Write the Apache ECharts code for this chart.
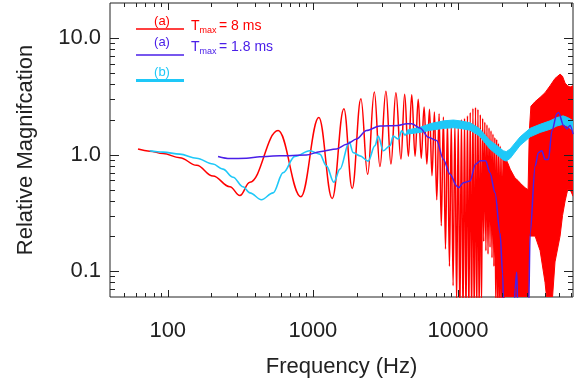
<!DOCTYPE html>
<html><head><meta charset="utf-8">
<script src="https://cdn.jsdelivr.net/npm/echarts@6/dist/echarts.min.js"></script>
<style>html,body{margin:0;padding:0;background:#fff}#c{width:580px;height:383px}</style>
</head><body><div id="c"></div>
<script>
// ---- data ----
const xTickValues = [100, 1000, 10000];
const xTickText = ['100', '1000', '10000'];
const xMinorValues = [50,60,70,80,90,200,300,400,500,600,700,800,900,2000,3000,4000,5000,6000,7000,8000,9000,20000,30000,40000,50000,60000];
const yTickValues = [0.1, 1, 10];
const yTickText = ['0.1', '1.0', '10.0'];
const yMinorValues = [0.07,0.08,0.09,0.2,0.3,0.4,0.5,0.6,0.7,0.8,0.9,2,3,4,5,6,7,8,9];

// (a) Tmax = 8 ms : resolved oscillations
const redF = [62.4,75,92.8,121,158,205,268,314,368,576,826,1099,1359,1636,1866,2143,2384,2651,2898,3187,3451,3733,4045,4290,4550,4800,5060,5320,5580,5840,6100,6360,6620,6880,7140,7410,7670,7930,8200,8460,8730,8990,9250,9520,9780,10040,10300,10560,10830,11090,11350,11620,11880,12140,12410,12670,12930,13200,13460,13720,13990,14250,14520,14780,15040,15300,15570,15830,16100,16360,16620,16880,17150,17410,17680,17940,18200,18460,18730,18990,19260,19520,19790,20050,20310,20570,20830];
const redV = [1.116,1.07,1.02,0.94,0.81,0.655,0.53,0.446,0.58,1.61,0.435,2.08,0.42,2.48,0.513,3.02,0.678,3.45,0.79,3.5,0.83,3.39,0.915,3.3,0.97,3.27,0.97,2.98,0.93,2.56,0.83,2.45,0.66,2.32,0.41,2.24,0.245,2.1,0.155,1.95,0.11,1.88,0.075,1.85,0.055,1.9,0.04,2.0,0.04,2.05,0.04,2.15,0.04,2.3,0.04,2.5,0.04,2.55,0.04,2.45,0.04,2.2,0.05,2.05,0.18,1.9,0.15,1.8,0.14,1.7,0.16,1.6,0.13,1.5,0.11,1.4,0.05,1.35,0.04,1.25,0.04,1.18,0.04,1.1,0.04,1.02,0.04];
// (a) Tmax = 8 ms : unresolved high-frequency band (upper / lower envelope)
const redBandF  = [20700,22000,22900,24700,25900,26800,29000,30400,31000,31800,34000,36800,39800,43100,46600,50500,52500,54700,57000,59200,62100];
const redBandHi = [1.0,0.85,0.75,0.63,0.6,0.57,0.52,0.5,1.6,2.6,2.85,3.1,3.4,3.9,4.5,4.9,4.7,4.1,3.9,3.8,3.9];
const redBandLo = [0.03,0.03,0.03,0.03,0.03,0.03,0.03,0.03,0.2,0.2,0.2,0.15,0.08,0.03,0.12,0.2,0.3,0.4,0.5,0.5,0.44];

// (a) Tmax = 1.8 ms
const blueF = [222,268,349,431,591,903,1115,1455,1706,2000,2341,2898,3880,4427,4796,5478,6250,7130,7920,8820,9810,10070,10900,12100,13200,14300,15500,16600,18000,19500,20300,20700,24300,24700,25400,25900,30600,31400,34000,35800,37800,39800,42000,44400,48000,49300,53400,56300,59200,62100];
const blueV = [0.965,0.925,0.93,0.96,0.976,0.99,1.06,1.12,1.23,1.36,1.61,1.76,1.78,1.84,1.84,1.69,1.41,1.32,0.914,0.68,0.537,0.52,0.574,0.593,0.827,0.884,0.884,0.70,0.47,0.21,0.095,0.04,0.04,0.07,0.098,0.04,0.04,0.21,0.80,1.04,1.08,0.91,0.91,1.6,2.24,2.3,1.78,1.66,1.78,1.5];

// (b)
const cyanF = [75,92.8,121,158,205,240,282,330,368,442,532,624,751,952,1115,1240,1394,1536,1780,1896,2109,2405,2675,2820,3055,3400,3578,3880,4094,4316,4500];
const cyanV = [1.08,1.05,1.01,0.93,0.83,0.75,0.64,0.53,0.47,0.41,0.47,0.70,0.965,1.08,1.01,0.80,0.58,0.75,1.28,1.04,0.976,0.88,1.19,1.44,1.08,1.19,1.44,1.36,1.6,1.47,1.58];
const cyanBandF  = [4450,5500,6500,8000,9300,10300,12100,14000,16600,18500,20500,21500,22900,26800,31400,36800,43100,48000,53000,57000,62100];
const cyanBandHi = [1.62,1.72,1.85,1.95,1.98,1.95,1.88,1.68,1.32,1.2,1.08,1.06,1.12,1.42,1.68,1.82,1.95,2.08,2.15,2.08,1.95];
const cyanBandLo = [1.5,1.55,1.62,1.68,1.7,1.68,1.62,1.45,1.12,1.0,0.9,0.88,0.93,1.2,1.42,1.55,1.65,1.76,1.82,1.75,1.6];

const RED = '#ff0000', BLUE = '#4a1fe8', CYAN = '#1ec8f8', INK = '#222';

function pairs(a, b) { return a.map((v, i) => [v, b[i]]); }
function isPow10(v) { const l = Math.log10(v); return Math.abs(l - Math.round(l)) < 1e-6; }

function bandSeries(F, Hi, Lo, color, z) {
  return {
    type: 'custom', clip: true, silent: true, z: z,
    data: pairs(F, Hi),
    encode: { x: 0, y: 1 },
    renderItem: function (params, api) {
      if (params.dataIndex !== 0) return null;
      const pts = [];
      for (let i = 0; i < F.length; i++) pts.push(api.coord([F[i], Hi[i]]));
      for (let i = F.length - 1; i >= 0; i--) pts.push(api.coord([F[i], Lo[i]]));
      return { type: 'polygon', shape: { points: pts }, style: { fill: color, stroke: color, lineWidth: 1 } };
    }
  };
}

function xTicks(values, len) {
  return {
    type: 'custom', silent: true, clip: false, z: 10,
    data: values.map(v => [v, 1]),
    encode: { x: 0, y: 1 },
    renderItem: function (params, api) {
      const cs = params.coordSys;
      const x = Math.round(api.coord([api.value(0), 1])[0]) + 0.5;
      const b = cs.y + cs.height, t = cs.y;
      return { type: 'group', children: [
        { type: 'line', shape: { x1: x, y1: b, x2: x, y2: b - len }, style: { stroke: INK, lineWidth: 1 } },
        { type: 'line', shape: { x1: x, y1: t, x2: x, y2: t + len }, style: { stroke: INK, lineWidth: 1 } }
      ] };
    }
  };
}
function yTicks(values, len) {
  return {
    type: 'custom', silent: true, clip: false, z: 10,
    data: values.map(v => [100, v]),
    encode: { x: 0, y: 1 },
    renderItem: function (params, api) {
      const cs = params.coordSys;
      const y = Math.round(api.coord([100, api.value(1)])[1]) + 0.5;
      const l = cs.x, r = cs.x + cs.width;
      return { type: 'group', children: [
        { type: 'line', shape: { x1: l, y1: y, x2: l + len, y2: y }, style: { stroke: INK, lineWidth: 1 } },
        { type: 'line', shape: { x1: r, y1: y, x2: r - len, y2: y }, style: { stroke: INK, lineWidth: 1 } }
      ] };
    }
  };
}

const chart = echarts.init(document.getElementById('c'), null, { renderer: 'canvas' });
const FONT = 'Liberation Sans, Arial, Helvetica, sans-serif';

chart.setOption({
  animation: false,
  backgroundColor: '#fff',
  grid: { left: 110, right: 7, top: 3, bottom: 86, show: true, borderColor: INK, borderWidth: 1, backgroundColor: 'transparent' },
  xAxis: {
    type: 'log', logBase: 10, min: 40, max: 62000,
    name: 'Frequency (Hz)', nameLocation: 'middle', nameGap: 59,
    nameTextStyle: { fontFamily: FONT, fontSize: 22, color: INK },
    axisLine: { show: false }, axisTick: { show: false }, splitLine: { show: false }, minorTick: { show: false },
    axisLabel: {
      margin: 23, fontFamily: FONT, fontSize: 22, color: INK, showMinLabel: false, showMaxLabel: false,
      formatter: function (v) { if (!isPow10(v)) return ''; const i = xTickValues.findIndex(t => Math.abs(t - v) / t < 1e-6); return i >= 0 ? xTickText[i] : ''; }
    }
  },
  yAxis: {
    type: 'log', logBase: 10, min: 0.06, max: 20,
    name: 'Relative Magnifcation', nameLocation: 'middle', nameGap: 73, nameRotate: 90,
    nameTextStyle: { fontFamily: FONT, fontSize: 22, color: INK },
    axisLine: { show: false }, axisTick: { show: false }, splitLine: { show: false }, minorTick: { show: false },
    axisLabel: {
      margin: 9, fontFamily: FONT, fontSize: 22, color: INK, showMinLabel: false, showMaxLabel: false,
      padding: [5, 0, 0, 0],
      formatter: function (v) { if (!isPow10(v)) return ''; const i = yTickValues.findIndex(t => Math.abs(t - v) / t < 1e-6); return i >= 0 ? yTickText[i] : ''; }
    }
  },
  series: [
    { type: 'line', data: pairs(redF, redV), showSymbol: false, smooth: 0.4, smoothMonotone: 'x', clip: true, z: 2,
      lineStyle: { color: RED, width: 1.5 } },
    bandSeries(redBandF, redBandHi, redBandLo, RED, 2),
    { type: 'line', data: pairs(cyanF, cyanV), showSymbol: false, smooth: 0.35, smoothMonotone: 'x', clip: true, z: 3,
      lineStyle: { color: CYAN, width: 1.6 } },
    bandSeries(cyanBandF, cyanBandHi, cyanBandLo, CYAN, 3),
    { type: 'line', data: pairs(blueF, blueV), showSymbol: false, smooth: 0.3, smoothMonotone: 'x', clip: true, z: 4,
      lineStyle: { color: BLUE, width: 1.5 } },
    xTicks(xTickValues, 7), xTicks(xMinorValues, 4),
    yTicks(yTickValues, 9), yTicks(yMinorValues, 5)
  ],
  graphic: [
    { type: 'line', shape: { x1: 136, y1: 29, x2: 184, y2: 29 }, style: { stroke: RED, lineWidth: 1.6 } },
    { type: 'text', x: 162, y: 21.5, style: { text: '(a)', fill: RED, font: '13px ' + FONT, textAlign: 'center', textVerticalAlign: 'middle' } },
    { type: 'text', x: 191, y: 26, style: { text: 'T', fill: RED, font: '14px ' + FONT, textAlign: 'left', textVerticalAlign: 'middle' } },
    { type: 'text', x: 199.5, y: 30.5, style: { text: 'max', fill: RED, font: '9px ' + FONT, textAlign: 'left', textVerticalAlign: 'middle' } },
    { type: 'text', x: 219, y: 26, style: { text: '= 8 ms', fill: RED, font: '14px ' + FONT, textAlign: 'left', textVerticalAlign: 'middle' } },

    { type: 'line', shape: { x1: 136, y1: 55, x2: 184, y2: 55 }, style: { stroke: BLUE, lineWidth: 1.6 } },
    { type: 'text', x: 162, y: 42.5, style: { text: '(a)', fill: BLUE, font: '13px ' + FONT, textAlign: 'center', textVerticalAlign: 'middle' } },
    { type: 'text', x: 191, y: 47, style: { text: 'T', fill: BLUE, font: '14px ' + FONT, textAlign: 'left', textVerticalAlign: 'middle' } },
    { type: 'text', x: 199.5, y: 51.5, style: { text: 'max', fill: BLUE, font: '9px ' + FONT, textAlign: 'left', textVerticalAlign: 'middle' } },
    { type: 'text', x: 219, y: 47, style: { text: '= 1.8 ms', fill: BLUE, font: '14px ' + FONT, textAlign: 'left', textVerticalAlign: 'middle' } },

    { type: 'line', shape: { x1: 136, y1: 80.5, x2: 184, y2: 80.5 }, style: { stroke: CYAN, lineWidth: 3 } },
    { type: 'text', x: 162, y: 72.5, style: { text: '(b)', fill: CYAN, font: '13px ' + FONT, textAlign: 'center', textVerticalAlign: 'middle' } }
  ]
});
</script>
</body></html>
